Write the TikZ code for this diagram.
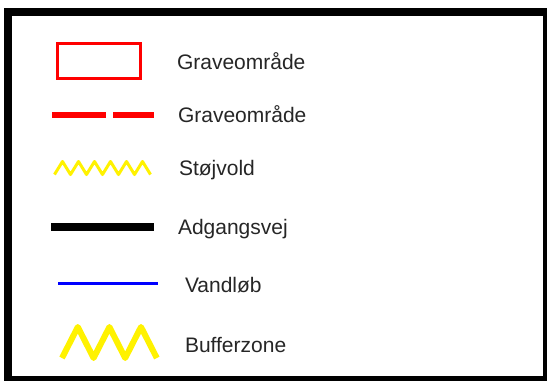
\documentclass[tikz,border=0pt]{standalone}
\usepackage{fontspec}
\setmainfont{Liberation Sans}
\begin{document}
\begin{tikzpicture}[x=1pt,y=-1pt,
  lbl/.style={anchor=base west,inner sep=0pt,outer sep=0pt,text=black!85,font=\fontsize{21}{25}\selectfont},
  redline/.style={draw=red,line width=6pt},
  yel/.style={draw=yellow,line join=round}]
\useasboundingbox (0,0) rectangle (547,381);
\fill[white] (0,0) rectangle (547,381);
% frame
\fill[black] (4,8) rectangle (547,381);
\fill[white] (12,16) rectangle (543,376);
% red rectangle
\draw[red,line width=3pt] (57.5,43.5) rectangle (140.5,78.5);
\node[lbl] (t1) at (177,69) {Graveområde};
% dashed red
\draw[redline] (52,115) -- (106,115);
\draw[redline] (113,115) -- (154,115);
\node[lbl] (t2) at (178,122) {Graveområde};
% small zigzag
\draw[yel,line width=3pt] (54.5,174.5)
  \foreach \i in {1,...,6} { -- ++(8,-13) -- ++(8,13) };
\node[lbl] (t3) at (179,175) {Støjvold};
% black road
\draw[black,line width=8pt] (51,227) -- (154,227);
\node[lbl] (t4) at (178,234) {Adgangsvej};
% blue line
\draw[blue,line width=3pt] (58,283.5) -- (158,283.5);
\node[lbl] (t5) at (185,292) {Vandløb};
% big zigzag
\draw[yel,line width=6pt] (62,358)
  \foreach \i in {1,...,3} { -- ++(15.8,-31) -- ++(15.8,31) };
\node[lbl] (t6) at (185,352) {Bufferzone};
\end{tikzpicture}
\end{document}
